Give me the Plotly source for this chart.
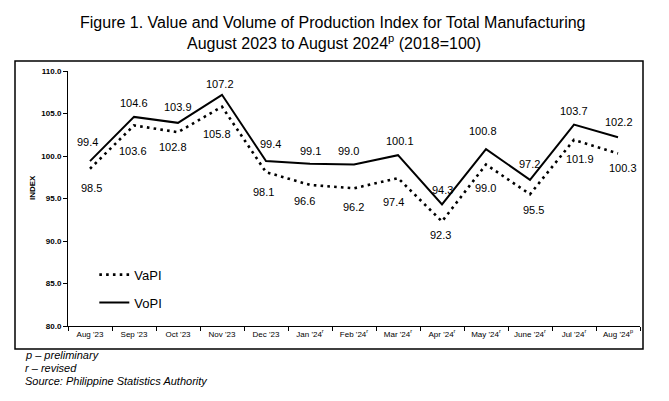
import plotly.graph_objects as go

months = ["Aug '23", "Sep '23", "Oct '23", "Nov '23", "Dec '23",
          "Jan '24<sup>r</sup>", "Feb '24<sup>r</sup>", "Mar '24<sup>r</sup>",
          "Apr '24<sup>r</sup>", "May '24<sup>r</sup>", "June '24<sup>r</sup>",
          "Jul '24<sup>r</sup>", "Aug '24<sup>p</sup>"]
vapi = [98.5, 103.6, 102.8, 105.8, 98.1, 96.6, 96.2, 97.4, 92.3, 99.0, 95.5, 101.9, 100.3]
vopi = [99.4, 104.6, 103.9, 107.2, 99.4, 99.1, 99.0, 100.1, 94.3, 100.8, 97.2, 103.7, 102.2]

# label offsets in pixels (x, y)
vopi_dx = [-3, 0, 0, -2, 4, 0, -6, 2, 0, -3, -1, 0, 1]
vopi_dy = [19, 14, 16, 11, 17, 13, 14, 14, 14, 18, 16, 14, 15]
vapi_dx = [1, -1, -5, -5, -3, -6, -1, -5, -2, -1, 3, 6, 5]
vapi_dy = [-19, -26, -15, -27, -20, -16, -19, -24, -14, -23, -16, -19, -15]

FONT = "Liberation Sans, Arial, sans-serif"
PW, PH = 572, 255  # plot area size in px


def px_x(x):
    return (x - 68) / PW


def px_y(y):
    return (326 - y) / PH


fig = go.Figure()
fig.add_trace(go.Scatter(x=months, y=vapi, mode="lines", name="VaPI",
                         line=dict(color="black", width=2.6, dash="2.6px,4.2px"),
                         legendgroup="a"))
fig.add_trace(go.Scatter(x=months, y=vopi, mode="lines", name="VoPI",
                         line=dict(color="black", width=2),
                         legendgroup="b"))

ann = []
for i, m in enumerate(months):
    ann.append(dict(x=m, y=vopi[i], text=f"{vopi[i]:.1f}", showarrow=False,
                    xshift=vopi_dx[i], yshift=vopi_dy[i],
                    font=dict(size=11, color="black", family=FONT)))
    ann.append(dict(x=m, y=vapi[i], text=f"{vapi[i]:.1f}", showarrow=False,
                    xshift=vapi_dx[i], yshift=vapi_dy[i],
                    font=dict(size=11, color="black", family=FONT)))

ann.append(dict(xref="paper", yref="paper", x=px_x(32), y=px_y(188), text="INDEX",
                textangle=-90, showarrow=False, xanchor="center", yanchor="middle",
                font=dict(size=8, color="black", family=FONT, weight="bold")))

# title
ann.append(dict(xref="paper", yref="paper", x=px_x(333), y=px_y(22),
                xanchor="center", yanchor="middle", showarrow=False,
                text="Figure 1. Value and Volume of Production Index for Total Manufacturing",
                font=dict(size=16, color="black", family=FONT)))
ann.append(dict(xref="paper", yref="paper", x=px_x(334), y=px_y(42),
                xanchor="center", yanchor="middle", showarrow=False,
                text="August 2023 to August 2024<sup>p</sup> (2018=100)",
                font=dict(size=16, color="black", family=FONT)))

foot = ["p – preliminary", "r – revised", "Source: Philippine Statistics Authority"]
for k, t in enumerate(foot):
    ann.append(dict(xref="paper", yref="paper", x=px_x(23),
                    y=px_y(355 + 13 * k), xanchor="left", yanchor="middle",
                    text=f"<i>{t}</i>", showarrow=False,
                    font=dict(size=11, color="black", family=FONT)))

fig.update_layout(
    width=669, height=401,
    margin=dict(l=68, r=29, t=71, b=75),
    paper_bgcolor="white", plot_bgcolor="white",
    font=dict(family=FONT, color="black"),
    xaxis=dict(type="category", range=[-0.5, 12.5], showgrid=False,
               showline=True, linecolor="black", linewidth=1,
               ticks="outside", ticklen=4, tickcolor="black", tickson="boundaries",
               tickfont=dict(size=8, family=FONT, color="black")),
    yaxis=dict(range=[80, 110], dtick=5, tickformat=".1f", showgrid=False,
               zeroline=False, showline=True, linecolor="black", linewidth=1,
               ticks="outside", ticklen=4, tickcolor="black",
               tickfont=dict(size=8, family=FONT, color="black", weight="bold")),
    legend=dict(x=0.046, y=0.26, xanchor="left", yanchor="top",
                bgcolor="rgba(0,0,0,0)", font=dict(size=13, family=FONT, color="black"),
                tracegroupgap=8, traceorder="grouped"),
    annotations=ann,
    shapes=[dict(type="rect", xref="paper", yref="paper",
                 x0=px_x(15), x1=px_x(643),
                 y0=px_y(349), y1=px_y(61),
                 line=dict(color="black", width=1.5))],
)

fig.write_html("out.html")
